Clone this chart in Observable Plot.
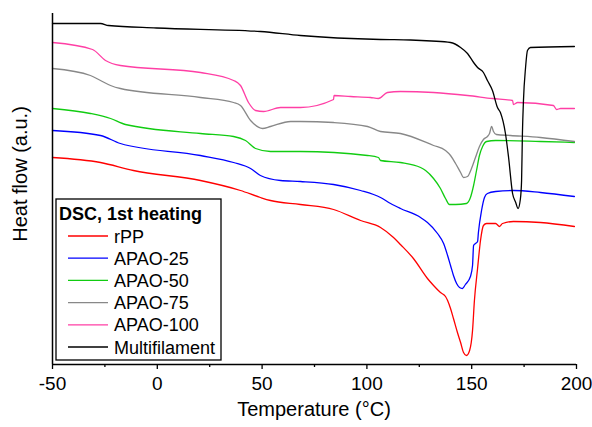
<!DOCTYPE html>
<html>
<head>
<meta charset="utf-8">
<script src="https://cdn.jsdelivr.net/npm/d3@7"></script>
<script src="https://cdn.jsdelivr.net/npm/@observablehq/plot@0.6"></script>
<style>
  html, body { margin: 0; padding: 0; background: #fff; }
  #chart { width: 592px; height: 427px; }
</style>
</head>
<body>
<div id="chart"></div>
<script>
const seriesNames = ["rPP", "APAO-25", "APAO-50", "APAO-75", "APAO-100", "Multifilament"];
const seriesColors = ["#ff0000", "#0000ff", "#11cc11", "#888888", "#ff3fa5", "#000000"];
const legendTitle = "DSC, 1st heating";
const xLabel = "Temperature (°C)";
const yLabel = "Heat flow (a.u.)";
const xMajorTicks = [-50, 0, 50, 100, 150, 200];
const xMinorTicks = [-25, 25, 75, 125, 175];

// [temperature °C, heat flow (a.u.)]
const rPP = [[-50,20.7],[-27.1,20.2],[-11.4,19.4],[20.6,18.4],[39.7,17.4],[49.2,16.7],[54,16.4],[68.3,16.0],[84.1,15.5],[97,14.4],[106.5,13.7],[112.7,12.7],[116,12.0],[122.2,10.6],[128.9,8.6],[131.8,7.9],[135.1,7.2],[137.5,6.8],[138.5,6.4],[139.9,5.6],[141.3,4.6],[143.2,3.2],[144.7,2.2],[146.1,1.2],[147.5,0.9],[149,1.4],[150.4,3.4],[151.3,6.4],[152.8,9.6],[154.2,12.4],[155.6,13.9],[157.1,14.1],[161.4,14.1],[163.3,13.8],[164.7,14.1],[169.9,14.3],[182.8,14.2],[199,13.8]];
const apao25 = [[-50,23.4],[-27.1,22.9],[-17.6,22.1],[20.6,20.9],[36.4,20.2],[44.5,19.6],[49.2,18.9],[58.8,18.4],[68.3,18.3],[84.1,18.0],[97,17.4],[106.5,16.7],[111.3,16.1],[116,15.6],[125.6,14.7],[128.9,14.2],[133.7,13.1],[136.6,12.1],[138.5,10.9],[139.9,9.9],[141.3,8.9],[142.8,8.1],[144.2,7.7],[145.6,7.6],[147,8.0],[149.4,8.8],[150.4,9.9],[150.9,11.9],[151.8,12.1],[152.8,12.3],[153.2,13.2],[154.7,15.4],[156.1,16.7],[157.5,17.1],[161.4,17.3],[169.9,17.4],[182.8,17.2],[199,16.8]];
const apao50 = [[-50,25.6],[-31.9,25.1],[-22.3,24.6],[-15.2,24],[20.6,23.1],[36.4,22.8],[42.1,22.4],[46.9,21.6],[54,21.3],[68.3,21.3],[100.3,20.9],[105.5,20.7],[106.5,20.4],[116,20.2],[125.6,19.7],[128,19.4],[131.8,18.6],[135.1,17.6],[137.5,16.6],[139.4,16.0],[142.3,16.0],[147.5,16.1],[149.4,16.7],[150.9,17.9],[152.3,19.4],[153.7,20.9],[155.2,21.8],[157.1,22.3],[161.4,22.4],[182.8,22.3],[199,22.2]];
const apao75 = [[-50,29.6],[-31.9,28.9],[-27.1,28.4],[-22.3,27.9],[-17.6,27.6],[20.6,26.7],[36.4,26.2],[39.7,25.9],[44.5,24.4],[50.2,23.6],[54,23.8],[63.6,24.3],[68.3,24.3],[84.1,24.2],[100.3,23.8],[106.5,23.3],[116,23.1],[131.8,21.9],[137.5,21.4],[139.9,20.9],[142.3,20.1],[144.7,19.2],[146.1,18.7],[148,18.8],[149.9,19.6],[151.8,20.7],[153.7,21.8],[155.6,22.5],[157.5,22.8],[158.5,23.1],[159.5,23.8],[160.4,23.3],[161.8,23],[168.5,22.9],[182.8,22.7],[199,22.3]];
const apao100 = [[-50,32.2],[-30.9,31.5],[-24.7,30.4],[-17.6,29.9],[20.6,29.2],[36.4,28.4],[39.7,27.9],[43.5,26.2],[46.9,25.4],[50.7,25.3],[58.8,25.7],[68.3,25.7],[84.1,26.5],[84.3,26.9],[92.2,26.8],[101.7,26.7],[105.5,26.6],[109.8,27.2],[116,27.3],[131.8,27.2],[148,26.9],[159.9,26.6],[169.5,26.4],[169.9,26.0],[171.9,26.2],[189,25.9],[190.5,25.5],[192.4,25.6],[199,25.6]];
const multifilament = [[-50,34.1],[-27.1,34.1],[-23.3,33.9],[-0.4,33.65],[49.2,33.3],[68.3,32.9],[106.5,32.5],[120.8,32.45],[130.8,32.35],[139.9,32.2],[144.7,31.7],[148,31.1],[150.9,30.2],[152.8,29.7],[155.6,29.2],[157.5,28.4],[159.9,27.4],[162.3,25.7],[163.7,25.2],[166.1,23.1],[167.6,20.7],[169.5,17.1],[171.0,16.2],[172.1,15.6],[173.2,16.5],[173.8,18.4],[174.2,23.1],[174.7,26.4],[175.7,29.7],[176.6,31.4],[178,31.7],[199,31.8]];

const allSeries = [rPP, apao25, apao50, apao75, apao100, multifilament];
const rows = allSeries.flatMap((s, i) => s.map(([t, h]) => ({t, h, name: seriesNames[i]})));

const FONT = "'Liberation Sans', Arial, sans-serif";
const ML = 52, MR = 16, MT = 13, MB = 63, W = 592, H = 427;

const plot = Plot.plot({
  width: W, height: H,
  marginLeft: ML, marginRight: MR, marginTop: MT, marginBottom: MB,
  style: {fontFamily: FONT, background: "#fff", color: "#000"},
  x: {domain: [-50, 200]},
  y: {domain: [0, 35.1], axis: null},
  color: {domain: seriesNames, range: seriesColors},
  marks: [
    Plot.lineY(rows, {x: "t", y: "h", z: "name", stroke: "name", strokeWidth: 1.3, curve: "monotone-x"}),
    Plot.ruleX([-50], {stroke: "#000", strokeWidth: 1.5}),
    Plot.ruleY([0], {stroke: "#000", strokeWidth: 1.5}),
    Plot.axisX({ticks: xMajorTicks, tickSize: 5, tickPadding: 7, fontSize: 19, label: null, stroke: "#000", strokeWidth: 1.3, tickFormat: d => String(d)}),
    Plot.axisX({ticks: xMinorTicks, tickSize: 3, tickFormat: () => "", label: null, stroke: "#000", strokeWidth: 1.3})
  ]
});

document.getElementById("chart").appendChild(plot);

const svg = d3.select(plot);
// axis titles
svg.append("text")
  .attr("x", (ML + (W - MR)) / 2).attr("y", 416)
  .attr("text-anchor", "middle")
  .style("font-family", FONT).style("font-size", "20px").attr("fill", "#000")
  .text(xLabel);
svg.append("text")
  .attr("transform", "translate(27,174) rotate(-90)")
  .attr("text-anchor", "middle")
  .style("font-family", FONT).style("font-size", "20px").attr("fill", "#000")
  .text(yLabel);

// legend
const lg = svg.append("g").attr("text-anchor", "start");
lg.append("rect").attr("x", 56).attr("y", 199).attr("width", 165).attr("height", 161)
  .attr("fill", "#fff").attr("stroke", "#000").attr("stroke-width", 1.3);
lg.append("text").attr("x", 59).attr("y", 219.5).attr("text-anchor", "start")
  .style("font-family", FONT).style("font-size", "18px").style("font-weight", "bold").attr("fill", "#000")
  .text(legendTitle);
seriesNames.forEach((name, i) => {
  const cy = 236 + i * 22.2;
  lg.append("line").attr("x1", 68).attr("x2", 108).attr("y1", cy).attr("y2", cy)
    .attr("stroke", seriesColors[i]).attr("stroke-width", 1.3);
  lg.append("text").attr("x", 114).attr("y", cy + 6.5).attr("text-anchor", "start")
    .style("font-family", FONT).style("font-size", "18px").attr("fill", "#000")
    .text(name);
});
</script>
</body>
</html>
